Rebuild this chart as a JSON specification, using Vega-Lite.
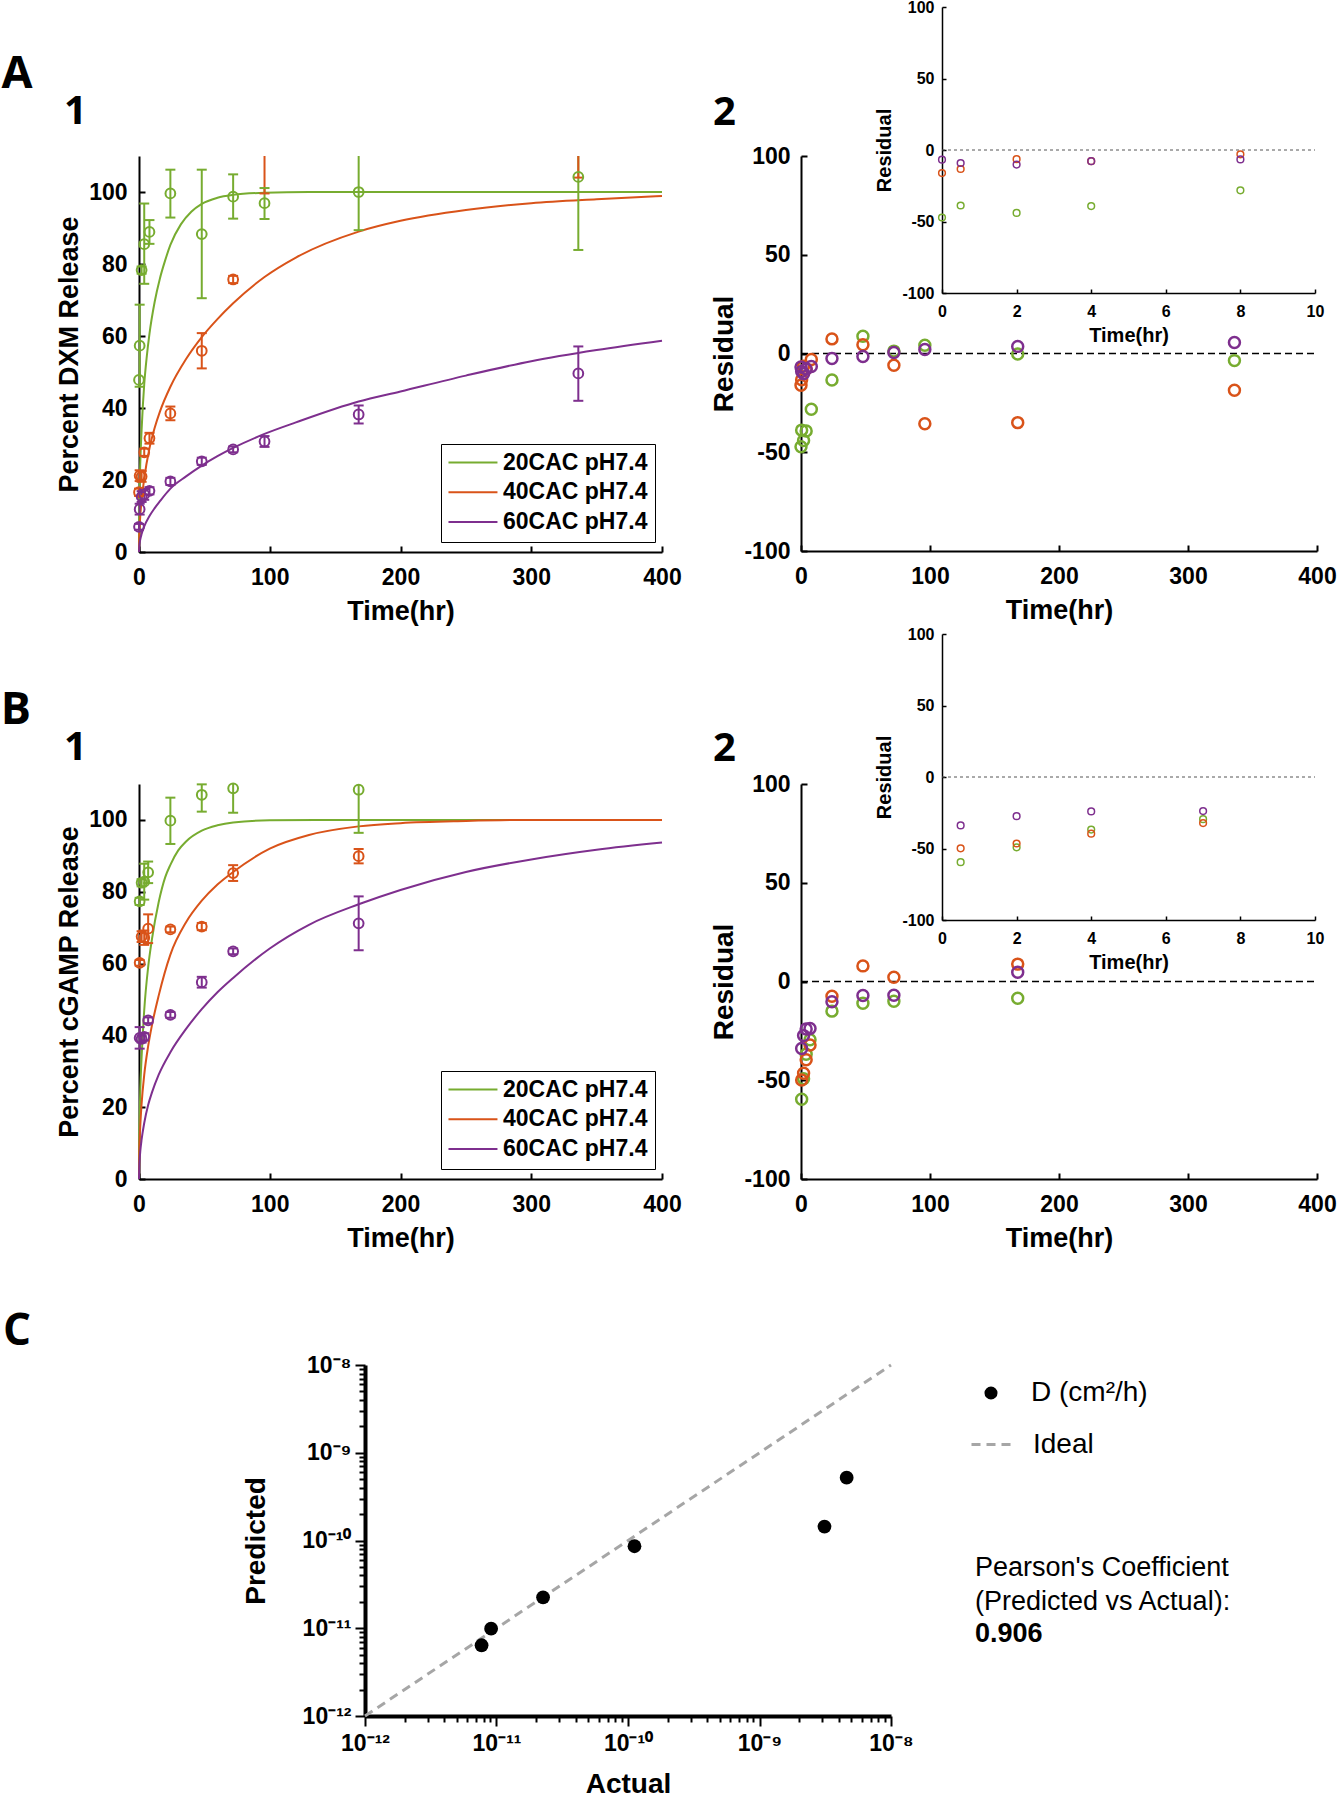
{
  "$schema": "https://vega.github.io/schema/vega-lite/v6.json",
  "width": 1337,
  "height": 1800,
  "autosize": {"type": "none"},
  "padding": 0,
  "background": "white",
  "config": {
    "view": {"stroke": null},
    "axis": {"grid": false, "domainColor": "black", "tickColor": "black", "labelColor": "black", "titleColor": "black", "labelFont": "Liberation Sans", "titleFont": "Liberation Sans", "labelFontWeight": "bold", "titleFontWeight": "bold", "labelFlush": false, "labelOverlap": false, "labelBound": false}
  },
  "datasets": {
    "a1": [
      {"s": "20CAC pH7.4", "t": 0, "v": 47.8, "lo": null, "hi": null},
      {"s": "20CAC pH7.4", "t": 0.5, "v": 57.3, "lo": 45.9, "hi": 68.7},
      {"s": "20CAC pH7.4", "t": 2, "v": 78.3, "lo": 77.3, "hi": 79.3},
      {"s": "20CAC pH7.4", "t": 4, "v": 85.5, "lo": 74.5, "hi": 96.8},
      {"s": "20CAC pH7.4", "t": 8, "v": 88.9, "lo": 85.6, "hi": 92.2},
      {"s": "20CAC pH7.4", "t": 24, "v": 99.6, "lo": 92.9, "hi": 106.2},
      {"s": "20CAC pH7.4", "t": 48, "v": 88.3, "lo": 70.5, "hi": 106.2},
      {"s": "20CAC pH7.4", "t": 72, "v": 98.7, "lo": 92.6, "hi": 104.9},
      {"s": "20CAC pH7.4", "t": 96, "v": 96.9, "lo": 92.5, "hi": 101.1},
      {"s": "20CAC pH7.4", "t": 168, "v": 100.0, "lo": 89.4, "hi": 110.6},
      {"s": "20CAC pH7.4", "t": 336, "v": 104.2, "lo": 83.9, "hi": 124.5},
      {"s": "40CAC pH7.4", "t": 0, "v": 16.6, "lo": 15.6, "hi": 17.6},
      {"s": "40CAC pH7.4", "t": 0.5, "v": 21.2, "lo": 19.7, "hi": 22.7},
      {"s": "40CAC pH7.4", "t": 2, "v": 21.0, "lo": 19.5, "hi": 22.5},
      {"s": "40CAC pH7.4", "t": 4, "v": 27.7, "lo": 26.7, "hi": 28.7},
      {"s": "40CAC pH7.4", "t": 8, "v": 31.6, "lo": 30.1, "hi": 33.1},
      {"s": "40CAC pH7.4", "t": 24, "v": 38.5, "lo": 36.6, "hi": 40.4},
      {"s": "40CAC pH7.4", "t": 48, "v": 55.9, "lo": 51.0, "hi": 60.8},
      {"s": "40CAC pH7.4", "t": 72, "v": 75.7, "lo": 74.7, "hi": 76.7},
      {"s": "40CAC pH7.4", "t": 96, "v": 112.0, "lo": 99.6, "hi": 124.4},
      {"s": "40CAC pH7.4", "t": 168, "v": 124.0, "lo": 116.0, "hi": 132.0},
      {"s": "40CAC pH7.4", "t": 336, "v": 116.3, "lo": 104.0, "hi": 128.6},
      {"s": "60CAC pH7.4", "t": 0, "v": 7.0, "lo": 6.2, "hi": 7.8},
      {"s": "60CAC pH7.4", "t": 0.5, "v": 11.9, "lo": 10.4, "hi": 13.4},
      {"s": "60CAC pH7.4", "t": 2, "v": 15.4, "lo": 13.9, "hi": 16.9},
      {"s": "60CAC pH7.4", "t": 4, "v": 16.0, "lo": 14.5, "hi": 17.5},
      {"s": "60CAC pH7.4", "t": 8, "v": 17.0, "lo": 16.0, "hi": 18.0},
      {"s": "60CAC pH7.4", "t": 24, "v": 19.6, "lo": 18.6, "hi": 20.6},
      {"s": "60CAC pH7.4", "t": 48, "v": 25.2, "lo": 24.2, "hi": 26.2},
      {"s": "60CAC pH7.4", "t": 72, "v": 28.5, "lo": 27.7, "hi": 29.3},
      {"s": "60CAC pH7.4", "t": 96, "v": 30.7, "lo": 29.2, "hi": 32.2},
      {"s": "60CAC pH7.4", "t": 168, "v": 38.2, "lo": 35.7, "hi": 40.7},
      {"s": "60CAC pH7.4", "t": 336, "v": 49.6, "lo": 42.0, "hi": 57.1}
    ],
    "a1fit": [
      {"s": "20CAC pH7.4", "t": 0, "v": 0}, {"s": "20CAC pH7.4", "t": 0.25, "v": 12.5}, {"s": "20CAC pH7.4", "t": 0.5, "v": 18}, {"s": "20CAC pH7.4", "t": 1, "v": 25}, {"s": "20CAC pH7.4", "t": 2, "v": 34}, {"s": "20CAC pH7.4", "t": 3, "v": 41}, {"s": "20CAC pH7.4", "t": 4, "v": 46.6}, {"s": "20CAC pH7.4", "t": 6, "v": 54.5}, {"s": "20CAC pH7.4", "t": 8, "v": 60.6}, {"s": "20CAC pH7.4", "t": 12, "v": 69.5}, {"s": "20CAC pH7.4", "t": 16, "v": 76}, {"s": "20CAC pH7.4", "t": 20, "v": 81}, {"s": "20CAC pH7.4", "t": 24, "v": 85.3}, {"s": "20CAC pH7.4", "t": 32, "v": 91}, {"s": "20CAC pH7.4", "t": 40, "v": 94.5}, {"s": "20CAC pH7.4", "t": 48, "v": 96.7}, {"s": "20CAC pH7.4", "t": 60, "v": 98.4}, {"s": "20CAC pH7.4", "t": 72, "v": 99.2}, {"s": "20CAC pH7.4", "t": 96, "v": 99.8}, {"s": "20CAC pH7.4", "t": 130, "v": 100}, {"s": "20CAC pH7.4", "t": 200, "v": 100}, {"s": "20CAC pH7.4", "t": 400, "v": 100},
      {"s": "40CAC pH7.4", "t": 0, "v": 0}, {"s": "40CAC pH7.4", "t": 0.25, "v": 5.1}, {"s": "40CAC pH7.4", "t": 0.5, "v": 7.2}, {"s": "40CAC pH7.4", "t": 1, "v": 10.2}, {"s": "40CAC pH7.4", "t": 2, "v": 14.4}, {"s": "40CAC pH7.4", "t": 4, "v": 20.4}, {"s": "40CAC pH7.4", "t": 8, "v": 28.8}, {"s": "40CAC pH7.4", "t": 12, "v": 34.5}, {"s": "40CAC pH7.4", "t": 16, "v": 39}, {"s": "40CAC pH7.4", "t": 24, "v": 45.9}, {"s": "40CAC pH7.4", "t": 36, "v": 53.6}, {"s": "40CAC pH7.4", "t": 48, "v": 59.7}, {"s": "40CAC pH7.4", "t": 60, "v": 64.7}, {"s": "40CAC pH7.4", "t": 72, "v": 69.1}, {"s": "40CAC pH7.4", "t": 96, "v": 76.4}, {"s": "40CAC pH7.4", "t": 120, "v": 81.8}, {"s": "40CAC pH7.4", "t": 168, "v": 89}, {"s": "40CAC pH7.4", "t": 200, "v": 92}, {"s": "40CAC pH7.4", "t": 250, "v": 95}, {"s": "40CAC pH7.4", "t": 300, "v": 96.9}, {"s": "40CAC pH7.4", "t": 350, "v": 98}, {"s": "40CAC pH7.4", "t": 400, "v": 98.9},
      {"s": "60CAC pH7.4", "t": 0, "v": 0}, {"s": "60CAC pH7.4", "t": 0.25, "v": 1.8}, {"s": "60CAC pH7.4", "t": 0.5, "v": 2.5}, {"s": "60CAC pH7.4", "t": 1, "v": 3.55}, {"s": "60CAC pH7.4", "t": 2, "v": 5}, {"s": "60CAC pH7.4", "t": 4, "v": 7.1}, {"s": "60CAC pH7.4", "t": 8, "v": 10}, {"s": "60CAC pH7.4", "t": 12, "v": 12.2}, {"s": "60CAC pH7.4", "t": 16, "v": 14.1}, {"s": "60CAC pH7.4", "t": 24, "v": 17.6}, {"s": "60CAC pH7.4", "t": 36, "v": 21}, {"s": "60CAC pH7.4", "t": 48, "v": 24}, {"s": "60CAC pH7.4", "t": 60, "v": 26.6}, {"s": "60CAC pH7.4", "t": 72, "v": 28.9}, {"s": "60CAC pH7.4", "t": 96, "v": 32.8}, {"s": "60CAC pH7.4", "t": 120, "v": 36}, {"s": "60CAC pH7.4", "t": 168, "v": 41.8}, {"s": "60CAC pH7.4", "t": 200, "v": 44.6}, {"s": "60CAC pH7.4", "t": 250, "v": 49}, {"s": "60CAC pH7.4", "t": 300, "v": 53}, {"s": "60CAC pH7.4", "t": 350, "v": 56.1}, {"s": "60CAC pH7.4", "t": 400, "v": 58.7}
    ],
    "a2": [
      {"s": "20CAC pH7.4", "t": 0, "r": -47.2}, {"s": "20CAC pH7.4", "t": 0.5, "r": -38.8}, {"s": "20CAC pH7.4", "t": 2, "r": -44}, {"s": "20CAC pH7.4", "t": 4, "r": -39.2}, {"s": "20CAC pH7.4", "t": 8, "r": -28.2}, {"s": "20CAC pH7.4", "t": 24, "r": -13.4}, {"s": "20CAC pH7.4", "t": 48, "r": 8.7}, {"s": "20CAC pH7.4", "t": 72, "r": 1.2}, {"s": "20CAC pH7.4", "t": 96, "r": 4.2}, {"s": "20CAC pH7.4", "t": 168, "r": -0.3}, {"s": "20CAC pH7.4", "t": 336, "r": -3.6},
      {"s": "40CAC pH7.4", "t": 0, "r": -16.1}, {"s": "40CAC pH7.4", "t": 0.5, "r": -13.3}, {"s": "40CAC pH7.4", "t": 2, "r": -6.4}, {"s": "40CAC pH7.4", "t": 4, "r": -7.8}, {"s": "40CAC pH7.4", "t": 8, "r": -3.0}, {"s": "40CAC pH7.4", "t": 24, "r": 7.4}, {"s": "40CAC pH7.4", "t": 48, "r": 4.4}, {"s": "40CAC pH7.4", "t": 72, "r": -5.9}, {"s": "40CAC pH7.4", "t": 96, "r": -35.6}, {"s": "40CAC pH7.4", "t": 168, "r": -35}, {"s": "40CAC pH7.4", "t": 336, "r": -18.6},
      {"s": "60CAC pH7.4", "t": 0, "r": -6.8}, {"s": "60CAC pH7.4", "t": 0.5, "r": -9.1}, {"s": "60CAC pH7.4", "t": 2, "r": -10.2}, {"s": "60CAC pH7.4", "t": 4, "r": -7.8}, {"s": "60CAC pH7.4", "t": 8, "r": -6.6}, {"s": "60CAC pH7.4", "t": 24, "r": -2.5}, {"s": "60CAC pH7.4", "t": 48, "r": -1.5}, {"s": "60CAC pH7.4", "t": 72, "r": 0.5}, {"s": "60CAC pH7.4", "t": 96, "r": 2}, {"s": "60CAC pH7.4", "t": 168, "r": 3.6}, {"s": "60CAC pH7.4", "t": 336, "r": 5.6}
    ],
    "b1": [
      {"s": "20CAC pH7.4", "t": 0.5, "v": 77.3, "lo": 76.3, "hi": 78.3},
      {"s": "20CAC pH7.4", "t": 2, "v": 82.5, "lo": 81.5, "hi": 83.5},
      {"s": "20CAC pH7.4", "t": 4, "v": 82.8, "lo": 77.8, "hi": 87.8},
      {"s": "20CAC pH7.4", "t": 7, "v": 85.4, "lo": 82.4, "hi": 88.4},
      {"s": "20CAC pH7.4", "t": 24, "v": 99.8, "lo": 93.3, "hi": 106.2},
      {"s": "20CAC pH7.4", "t": 48, "v": 107.0, "lo": 102.3, "hi": 109.9},
      {"s": "20CAC pH7.4", "t": 72, "v": 108.8, "lo": 102.0, "hi": 115.6},
      {"s": "20CAC pH7.4", "t": 168, "v": 108.4, "lo": 96.4, "hi": 120.4},
      {"s": "40CAC pH7.4", "t": 0.5, "v": 60.2, "lo": 59.4, "hi": 61.0},
      {"s": "40CAC pH7.4", "t": 2, "v": 67.5, "lo": 66.0, "hi": 69.0},
      {"s": "40CAC pH7.4", "t": 4, "v": 67.2, "lo": 65.2, "hi": 69.2},
      {"s": "40CAC pH7.4", "t": 7, "v": 69.7, "lo": 65.7, "hi": 73.7},
      {"s": "40CAC pH7.4", "t": 24, "v": 69.5, "lo": 68.7, "hi": 70.3},
      {"s": "40CAC pH7.4", "t": 48, "v": 70.3, "lo": 69.3, "hi": 71.3},
      {"s": "40CAC pH7.4", "t": 72, "v": 85.2, "lo": 83.0, "hi": 87.4},
      {"s": "40CAC pH7.4", "t": 168, "v": 89.9, "lo": 87.9, "hi": 91.9},
      {"s": "60CAC pH7.4", "t": 0.5, "v": 39.3, "lo": 36.3, "hi": 42.3},
      {"s": "60CAC pH7.4", "t": 2, "v": 39.0, "lo": 38.0, "hi": 40.0},
      {"s": "60CAC pH7.4", "t": 4, "v": 39.6, "lo": 38.6, "hi": 40.6},
      {"s": "60CAC pH7.4", "t": 7, "v": 44.2, "lo": 43.4, "hi": 45.0},
      {"s": "60CAC pH7.4", "t": 24, "v": 45.7, "lo": 44.9, "hi": 46.5},
      {"s": "60CAC pH7.4", "t": 48, "v": 54.8, "lo": 53.3, "hi": 56.3},
      {"s": "60CAC pH7.4", "t": 72, "v": 63.4, "lo": 62.6, "hi": 64.2},
      {"s": "60CAC pH7.4", "t": 168, "v": 71.2, "lo": 63.7, "hi": 78.7}
    ],
    "b1fit": [
      {"s": "20CAC pH7.4", "t": 0, "v": 0}, {"s": "20CAC pH7.4", "t": 0.25, "v": 12.5}, {"s": "20CAC pH7.4", "t": 0.5, "v": 17.6}, {"s": "20CAC pH7.4", "t": 1, "v": 25}, {"s": "20CAC pH7.4", "t": 2, "v": 34}, {"s": "20CAC pH7.4", "t": 4, "v": 47}, {"s": "20CAC pH7.4", "t": 7, "v": 59}, {"s": "20CAC pH7.4", "t": 10, "v": 67}, {"s": "20CAC pH7.4", "t": 15, "v": 77}, {"s": "20CAC pH7.4", "t": 20, "v": 84}, {"s": "20CAC pH7.4", "t": 24, "v": 87.5}, {"s": "20CAC pH7.4", "t": 30, "v": 91.5}, {"s": "20CAC pH7.4", "t": 36, "v": 94}, {"s": "20CAC pH7.4", "t": 48, "v": 97}, {"s": "20CAC pH7.4", "t": 60, "v": 98.5}, {"s": "20CAC pH7.4", "t": 72, "v": 99.3}, {"s": "20CAC pH7.4", "t": 100, "v": 99.9}, {"s": "20CAC pH7.4", "t": 150, "v": 100}, {"s": "20CAC pH7.4", "t": 400, "v": 100},
      {"s": "40CAC pH7.4", "t": 0, "v": 0}, {"s": "40CAC pH7.4", "t": 0.25, "v": 7.5}, {"s": "40CAC pH7.4", "t": 0.5, "v": 10.7}, {"s": "40CAC pH7.4", "t": 1, "v": 15}, {"s": "40CAC pH7.4", "t": 2, "v": 21}, {"s": "40CAC pH7.4", "t": 4, "v": 29}, {"s": "40CAC pH7.4", "t": 7, "v": 37}, {"s": "40CAC pH7.4", "t": 10, "v": 43}, {"s": "40CAC pH7.4", "t": 15, "v": 51}, {"s": "40CAC pH7.4", "t": 24, "v": 62.5}, {"s": "40CAC pH7.4", "t": 36, "v": 71.5}, {"s": "40CAC pH7.4", "t": 48, "v": 77.5}, {"s": "40CAC pH7.4", "t": 60, "v": 82}, {"s": "40CAC pH7.4", "t": 72, "v": 85.5}, {"s": "40CAC pH7.4", "t": 100, "v": 92}, {"s": "40CAC pH7.4", "t": 130, "v": 95.8}, {"s": "40CAC pH7.4", "t": 168, "v": 98.2}, {"s": "40CAC pH7.4", "t": 200, "v": 99.1}, {"s": "40CAC pH7.4", "t": 250, "v": 99.7}, {"s": "40CAC pH7.4", "t": 300, "v": 100}, {"s": "40CAC pH7.4", "t": 400, "v": 100},
      {"s": "60CAC pH7.4", "t": 0, "v": 0}, {"s": "60CAC pH7.4", "t": 0.25, "v": 3.9}, {"s": "60CAC pH7.4", "t": 0.5, "v": 5.5}, {"s": "60CAC pH7.4", "t": 1, "v": 7.8}, {"s": "60CAC pH7.4", "t": 2, "v": 11}, {"s": "60CAC pH7.4", "t": 4, "v": 15.6}, {"s": "60CAC pH7.4", "t": 7, "v": 20.6}, {"s": "60CAC pH7.4", "t": 10, "v": 24.2}, {"s": "60CAC pH7.4", "t": 15, "v": 29}, {"s": "60CAC pH7.4", "t": 24, "v": 35.3}, {"s": "60CAC pH7.4", "t": 36, "v": 41.8}, {"s": "60CAC pH7.4", "t": 48, "v": 47.3}, {"s": "60CAC pH7.4", "t": 60, "v": 52}, {"s": "60CAC pH7.4", "t": 72, "v": 56}, {"s": "60CAC pH7.4", "t": 100, "v": 64.2}, {"s": "60CAC pH7.4", "t": 130, "v": 70.8}, {"s": "60CAC pH7.4", "t": 168, "v": 76.5}, {"s": "60CAC pH7.4", "t": 200, "v": 80.5}, {"s": "60CAC pH7.4", "t": 250, "v": 85.5}, {"s": "60CAC pH7.4", "t": 300, "v": 89}, {"s": "60CAC pH7.4", "t": 350, "v": 91.7}, {"s": "60CAC pH7.4", "t": 400, "v": 93.7}
    ],
    "b2": [
      {"s": "20CAC pH7.4", "t": 0.5, "r": -59.6}, {"s": "20CAC pH7.4", "t": 2, "r": -49.2}, {"s": "20CAC pH7.4", "t": 4, "r": -36.8}, {"s": "20CAC pH7.4", "t": 7, "r": -29.5}, {"s": "20CAC pH7.4", "t": 24, "r": -15}, {"s": "20CAC pH7.4", "t": 48, "r": -11}, {"s": "20CAC pH7.4", "t": 72, "r": -10}, {"s": "20CAC pH7.4", "t": 168, "r": -8.5},
      {"s": "40CAC pH7.4", "t": 0.5, "r": -49.9}, {"s": "40CAC pH7.4", "t": 2, "r": -46.5}, {"s": "40CAC pH7.4", "t": 4, "r": -39.6}, {"s": "40CAC pH7.4", "t": 7, "r": -32.2}, {"s": "40CAC pH7.4", "t": 24, "r": -7.5}, {"s": "40CAC pH7.4", "t": 48, "r": 7.9}, {"s": "40CAC pH7.4", "t": 72, "r": 2.2}, {"s": "40CAC pH7.4", "t": 168, "r": 8.8},
      {"s": "60CAC pH7.4", "t": 0.5, "r": -33.9}, {"s": "60CAC pH7.4", "t": 2, "r": -27.4}, {"s": "60CAC pH7.4", "t": 4, "r": -24.1}, {"s": "60CAC pH7.4", "t": 7, "r": -23.8}, {"s": "60CAC pH7.4", "t": 24, "r": -10.3}, {"s": "60CAC pH7.4", "t": 48, "r": -7.1}, {"s": "60CAC pH7.4", "t": 72, "r": -7}, {"s": "60CAC pH7.4", "t": 168, "r": 4.7}
    ],
    "c": [
      {"pt": "D (cm²/h)", "actual": 7.7e-12, "predicted": 6.4e-12},
      {"pt": "D (cm²/h)", "actual": 9.1e-12, "predicted": 9.9e-12},
      {"pt": "D (cm²/h)", "actual": 2.26e-11, "predicted": 2.25e-11},
      {"pt": "D (cm²/h)", "actual": 1.12e-10, "predicted": 8.6e-11},
      {"pt": "D (cm²/h)", "actual": 3.12e-9, "predicted": 1.44e-10},
      {"pt": "D (cm²/h)", "actual": 4.6e-9, "predicted": 5.2e-10}
    ],
    "cideal": [
      {"ln": "Ideal", "actual": 1e-12, "predicted": 1e-12},
      {"ln": "Ideal", "actual": 1e-8, "predicted": 1e-8}
    ]
  },
  "layer": [
    {
      "layer": [
        {
          "data": {"name": "a1fit"},
          "mark": {"type": "line", "interpolate": "monotone", "strokeWidth": 2},
          "encoding": {
            "x": {"field": "t", "type": "quantitative", "scale": {"domain": [0, 400], "range": [139, 662], "nice": false, "zero": false},
              "axis": {"orient": "bottom", "offset": -1248, "values": [0, 100, 200, 300, 400], "title": "Time(hr)", "domainWidth": 2, "tickWidth": 2, "tickSize": -6, "labelFontSize": 23, "labelPadding": 20, "titleFontSize": 27, "titlePadding": 9}},
            "y": {"field": "v", "type": "quantitative", "scale": {"domain": [0, 110], "range": [552, 156], "nice": false, "zero": false, "clamp": true},
              "axis": {"orient": "left", "offset": -139, "values": [0, 20, 40, 60, 80, 100], "title": "Percent DXM Release", "domainWidth": 2, "tickWidth": 2, "tickSize": -6, "labelFontSize": 23, "labelPadding": 18, "titleFontSize": 27, "titlePadding": 5}},
            "color": {"field": "s", "type": "nominal", "scale": {"domain": ["20CAC pH7.4", "40CAC pH7.4", "60CAC pH7.4"], "range": ["#77AC30", "#D95319", "#7E2F8E"]},
              "legend": {"orient": "none", "legendX": 441, "legendY": 444, "title": null, "symbolType": "M-1.8,0H6.2", "symbolSize": 150, "symbolStrokeWidth": 2, "labelFont": "Liberation Sans", "labelFontWeight": "bold", "labelFontSize": 23, "labelColor": "black", "labelLimit": 400, "strokeColor": "black", "fillColor": "white", "padding": 7, "labelOffset": 32, "rowPadding": 5.8}}
          }
        },
        {
          "data": {"name": "a1"},
          "transform": [{"filter": "isValid(datum.lo)"}],
          "mark": {"type": "rule", "strokeWidth": 2},
          "encoding": {
            "x": {"field": "t", "type": "quantitative", "scale": {"domain": [0, 400], "range": [139, 662], "nice": false, "zero": false}},
            "y": {"field": "lo", "type": "quantitative", "scale": {"domain": [0, 110], "range": [552, 156], "nice": false, "zero": false, "clamp": true}},
            "y2": {"field": "hi"},
            "color": {"field": "s", "type": "nominal", "scale": {"domain": ["20CAC pH7.4", "40CAC pH7.4", "60CAC pH7.4"], "range": ["#77AC30", "#D95319", "#7E2F8E"]}}
          }
        },
        {
          "data": {"name": "a1"},
          "transform": [{"filter": "isValid(datum.lo) && datum.lo <= 110"}],
          "mark": {"type": "tick", "orient": "horizontal", "size": 10, "thickness": 2, "opacity": 1},
          "encoding": {
            "x": {"field": "t", "type": "quantitative", "scale": {"domain": [0, 400], "range": [139, 662], "nice": false, "zero": false}},
            "y": {"field": "lo", "type": "quantitative", "scale": {"domain": [0, 110], "range": [552, 156], "nice": false, "zero": false, "clamp": true}},
            "color": {"field": "s", "type": "nominal", "scale": {"domain": ["20CAC pH7.4", "40CAC pH7.4", "60CAC pH7.4"], "range": ["#77AC30", "#D95319", "#7E2F8E"]}}
          }
        },
        {
          "data": {"name": "a1"},
          "transform": [{"filter": "isValid(datum.hi) && datum.hi <= 110"}],
          "mark": {"type": "tick", "orient": "horizontal", "size": 10, "thickness": 2, "opacity": 1},
          "encoding": {
            "x": {"field": "t", "type": "quantitative", "scale": {"domain": [0, 400], "range": [139, 662], "nice": false, "zero": false}},
            "y": {"field": "hi", "type": "quantitative", "scale": {"domain": [0, 110], "range": [552, 156], "nice": false, "zero": false, "clamp": true}},
            "color": {"field": "s", "type": "nominal", "scale": {"domain": ["20CAC pH7.4", "40CAC pH7.4", "60CAC pH7.4"], "range": ["#77AC30", "#D95319", "#7E2F8E"]}}
          }
        },
        {
          "data": {"name": "a1"},
          "transform": [{"filter": "datum.v <= 110"}],
          "mark": {"type": "point", "shape": "circle", "filled": false, "size": 95, "strokeWidth": 2, "opacity": 1},
          "encoding": {
            "x": {"field": "t", "type": "quantitative", "scale": {"domain": [0, 400], "range": [139, 662], "nice": false, "zero": false}},
            "y": {"field": "v", "type": "quantitative", "scale": {"domain": [0, 110], "range": [552, 156], "nice": false, "zero": false, "clamp": true}},
            "color": {"field": "s", "type": "nominal", "scale": {"domain": ["20CAC pH7.4", "40CAC pH7.4", "60CAC pH7.4"], "range": ["#77AC30", "#D95319", "#7E2F8E"]}}
          }
        }
      ]
    },
    {
      "data": {"values": [{"label": "A", "t": -93.3, "v": 132.8, "level": "panel"}, {"label": "1", "t": -48.6, "v": 122.2, "level": "sub"}]},
      "encoding": {
        "x": {"field": "t", "type": "quantitative", "scale": {"domain": [0, 400], "range": [139, 662], "nice": false, "zero": false}, "axis": null},
        "y": {"field": "v", "type": "quantitative", "scale": {"domain": [0, 110], "range": [552, 156], "nice": false, "zero": false}, "axis": null},
        "text": {"field": "label", "type": "nominal"}
      },
      "layer": [
        {"transform": [{"filter": "datum.level == 'panel'"}], "mark": {"type": "text", "font": "Open Sans", "fontWeight": "bold", "fontSize": 45, "align": "center", "baseline": "middle", "color": "black"}},
        {"transform": [{"filter": "datum.level == 'sub'"}], "mark": {"type": "text", "font": "Open Sans", "fontWeight": "bold", "fontSize": 40, "align": "center", "baseline": "middle", "color": "black"}}
      ]
    },
    {
      "layer": [
        {
          "data": {"values": [{"from": 0, "to": 400, "r": 0}]},
          "mark": {"type": "rule", "strokeDash": [7, 4], "strokeWidth": 1.5, "color": "black"},
          "encoding": {
            "x": {"field": "from", "type": "quantitative", "scale": {"domain": [0, 400], "range": [801, 1317], "nice": false, "zero": false},
              "axis": {"orient": "bottom", "offset": -1249, "values": [0, 100, 200, 300, 400], "title": "Time(hr)", "domainWidth": 2, "tickWidth": 2, "tickSize": -6, "labelFontSize": 23, "labelPadding": 20, "titleFontSize": 27, "titlePadding": 9}},
            "x2": {"field": "to"},
            "y": {"field": "r", "type": "quantitative", "scale": {"domain": [-100, 100], "range": [551, 156], "nice": false, "zero": false},
              "axis": {"orient": "left", "offset": -801, "values": [-100, -50, 0, 50, 100], "labelExpr": "datum.value + ''", "title": "Residual", "domainWidth": 2, "tickWidth": 2, "tickSize": -6, "labelFontSize": 23, "labelPadding": 17, "titleFontSize": 28, "titlePadding": 5}}
          }
        },
        {
          "data": {"name": "a2"},
          "mark": {"type": "point", "shape": "circle", "filled": false, "size": 120, "strokeWidth": 2.5, "opacity": 1},
          "encoding": {
            "x": {"field": "t", "type": "quantitative", "scale": {"domain": [0, 400], "range": [801, 1317], "nice": false, "zero": false}},
            "y": {"field": "r", "type": "quantitative", "scale": {"domain": [-100, 100], "range": [551, 156], "nice": false, "zero": false}},
            "color": {"field": "s", "type": "nominal", "scale": {"domain": ["20CAC pH7.4", "40CAC pH7.4", "60CAC pH7.4"], "range": ["#77AC30", "#D95319", "#7E2F8E"]}, "legend": null}
          }
        },
        {
          "data": {"values": [{"label": "2", "t": -59.3, "r": 121.8}]},
          "mark": {"type": "text", "font": "Open Sans", "fontWeight": "bold", "fontSize": 40, "align": "center", "baseline": "middle", "color": "black"},
          "encoding": {
            "x": {"field": "t", "type": "quantitative", "scale": {"domain": [0, 400], "range": [801, 1317], "nice": false, "zero": false}},
            "y": {"field": "r", "type": "quantitative", "scale": {"domain": [-100, 100], "range": [551, 156], "nice": false, "zero": false}},
            "text": {"field": "label", "type": "nominal"}
          }
        }
      ]
    },
    {
      "layer": [
        {
          "data": {"values": [{"from": 0, "to": 10, "r": 0}]},
          "mark": {"type": "rule", "strokeDash": [3, 3], "strokeWidth": 1, "color": "#555555"},
          "encoding": {
            "x": {"field": "from", "type": "quantitative", "scale": {"domain": [0, 10], "range": [942, 1315], "nice": false, "zero": false},
              "axis": {"orient": "bottom", "offset": -1507, "values": [0, 2, 4, 6, 8, 10], "labelExpr": "datum.value + ''", "title": "Time(hr)", "domainWidth": 1.5, "tickWidth": 1.5, "tickSize": -4, "labelFontSize": 16, "labelPadding": 14, "titleFontSize": 20, "titlePadding": 6}},
            "x2": {"field": "to"},
            "y": {"field": "r", "type": "quantitative", "scale": {"domain": [-100, 100], "range": [293, 7], "nice": false, "zero": false},
              "axis": {"orient": "left", "offset": -942, "values": [-100, -50, 0, 50, 100], "labelExpr": "datum.value + ''", "title": "Residual", "domainWidth": 1.5, "tickWidth": 1.5, "tickSize": -4, "labelFontSize": 16, "labelPadding": 12, "titleFontSize": 20, "titlePadding": 7}}
          }
        },
        {
          "data": {"name": "a2"},
          "transform": [{"filter": "datum.t <= 10"}],
          "mark": {"type": "point", "shape": "circle", "filled": false, "size": 45, "strokeWidth": 1.5, "opacity": 1},
          "encoding": {
            "x": {"field": "t", "type": "quantitative", "scale": {"domain": [0, 10], "range": [942, 1315], "nice": false, "zero": false}},
            "y": {"field": "r", "type": "quantitative", "scale": {"domain": [-100, 100], "range": [293, 7], "nice": false, "zero": false}},
            "color": {"field": "s", "type": "nominal", "scale": {"domain": ["20CAC pH7.4", "40CAC pH7.4", "60CAC pH7.4"], "range": ["#77AC30", "#D95319", "#7E2F8E"]}, "legend": null}
          }
        }
      ]
    },
    {
      "layer": [
        {
          "data": {"name": "b1fit"},
          "mark": {"type": "line", "interpolate": "monotone", "strokeWidth": 2},
          "encoding": {
            "x": {"field": "t", "type": "quantitative", "scale": {"domain": [0, 400], "range": [139, 662], "nice": false, "zero": false},
              "axis": {"orient": "bottom", "offset": -621, "values": [0, 100, 200, 300, 400], "title": "Time(hr)", "domainWidth": 2, "tickWidth": 2, "tickSize": -6, "labelFontSize": 23, "labelPadding": 20, "titleFontSize": 27, "titlePadding": 9}},
            "y": {"field": "v", "type": "quantitative", "scale": {"domain": [0, 110], "range": [1179, 784], "nice": false, "zero": false, "clamp": true},
              "axis": {"orient": "left", "offset": -139, "values": [0, 20, 40, 60, 80, 100], "title": "Percent cGAMP Release", "domainWidth": 2, "tickWidth": 2, "tickSize": -6, "labelFontSize": 23, "labelPadding": 18, "titleFontSize": 27, "titlePadding": 5}},
            "color": {"field": "s", "type": "nominal", "scale": {"domain": ["20CAC pH7.4", "40CAC pH7.4", "60CAC pH7.4"], "range": ["#77AC30", "#D95319", "#7E2F8E"]},
              "legend": {"orient": "none", "legendX": 441, "legendY": 1071, "title": null, "symbolType": "M-1.8,0H6.2", "symbolSize": 150, "symbolStrokeWidth": 2, "labelFont": "Liberation Sans", "labelFontWeight": "bold", "labelFontSize": 23, "labelColor": "black", "labelLimit": 400, "strokeColor": "black", "fillColor": "white", "padding": 7, "labelOffset": 32, "rowPadding": 5.8}}
          }
        },
        {
          "data": {"name": "b1"},
          "mark": {"type": "rule", "strokeWidth": 2},
          "encoding": {
            "x": {"field": "t", "type": "quantitative", "scale": {"domain": [0, 400], "range": [139, 662], "nice": false, "zero": false}},
            "y": {"field": "lo", "type": "quantitative", "scale": {"domain": [0, 110], "range": [1179, 784], "nice": false, "zero": false, "clamp": true}},
            "y2": {"field": "hi"},
            "color": {"field": "s", "type": "nominal", "scale": {"domain": ["20CAC pH7.4", "40CAC pH7.4", "60CAC pH7.4"], "range": ["#77AC30", "#D95319", "#7E2F8E"]}}
          }
        },
        {
          "data": {"name": "b1"},
          "transform": [{"filter": "datum.lo <= 110"}],
          "mark": {"type": "tick", "orient": "horizontal", "size": 10, "thickness": 2, "opacity": 1},
          "encoding": {
            "x": {"field": "t", "type": "quantitative", "scale": {"domain": [0, 400], "range": [139, 662], "nice": false, "zero": false}},
            "y": {"field": "lo", "type": "quantitative", "scale": {"domain": [0, 110], "range": [1179, 784], "nice": false, "zero": false, "clamp": true}},
            "color": {"field": "s", "type": "nominal", "scale": {"domain": ["20CAC pH7.4", "40CAC pH7.4", "60CAC pH7.4"], "range": ["#77AC30", "#D95319", "#7E2F8E"]}}
          }
        },
        {
          "data": {"name": "b1"},
          "transform": [{"filter": "datum.hi <= 110"}],
          "mark": {"type": "tick", "orient": "horizontal", "size": 10, "thickness": 2, "opacity": 1},
          "encoding": {
            "x": {"field": "t", "type": "quantitative", "scale": {"domain": [0, 400], "range": [139, 662], "nice": false, "zero": false}},
            "y": {"field": "hi", "type": "quantitative", "scale": {"domain": [0, 110], "range": [1179, 784], "nice": false, "zero": false, "clamp": true}},
            "color": {"field": "s", "type": "nominal", "scale": {"domain": ["20CAC pH7.4", "40CAC pH7.4", "60CAC pH7.4"], "range": ["#77AC30", "#D95319", "#7E2F8E"]}}
          }
        },
        {
          "data": {"name": "b1"},
          "transform": [{"filter": "datum.v <= 110"}],
          "mark": {"type": "point", "shape": "circle", "filled": false, "size": 95, "strokeWidth": 2, "opacity": 1},
          "encoding": {
            "x": {"field": "t", "type": "quantitative", "scale": {"domain": [0, 400], "range": [139, 662], "nice": false, "zero": false}},
            "y": {"field": "v", "type": "quantitative", "scale": {"domain": [0, 110], "range": [1179, 784], "nice": false, "zero": false, "clamp": true}},
            "color": {"field": "s", "type": "nominal", "scale": {"domain": ["20CAC pH7.4", "40CAC pH7.4", "60CAC pH7.4"], "range": ["#77AC30", "#D95319", "#7E2F8E"]}}
          }
        }
      ]
    },
    {
      "data": {"values": [{"label": "B", "t": -94.1, "v": 130.6, "level": "panel"}, {"label": "1", "t": -48.6, "v": 120.0, "level": "sub"}]},
      "encoding": {
        "x": {"field": "t", "type": "quantitative", "scale": {"domain": [0, 400], "range": [139, 662], "nice": false, "zero": false}, "axis": null},
        "y": {"field": "v", "type": "quantitative", "scale": {"domain": [0, 110], "range": [1179, 784], "nice": false, "zero": false}, "axis": null},
        "text": {"field": "label", "type": "nominal"}
      },
      "layer": [
        {"transform": [{"filter": "datum.level == 'panel'"}], "mark": {"type": "text", "font": "Open Sans", "fontWeight": "bold", "fontSize": 45, "align": "center", "baseline": "middle", "color": "black"}},
        {"transform": [{"filter": "datum.level == 'sub'"}], "mark": {"type": "text", "font": "Open Sans", "fontWeight": "bold", "fontSize": 40, "align": "center", "baseline": "middle", "color": "black"}}
      ]
    },
    {
      "layer": [
        {
          "data": {"values": [{"from": 0, "to": 400, "r": 0}]},
          "mark": {"type": "rule", "strokeDash": [7, 4], "strokeWidth": 1.5, "color": "black"},
          "encoding": {
            "x": {"field": "from", "type": "quantitative", "scale": {"domain": [0, 400], "range": [801, 1317], "nice": false, "zero": false},
              "axis": {"orient": "bottom", "offset": -621, "values": [0, 100, 200, 300, 400], "title": "Time(hr)", "domainWidth": 2, "tickWidth": 2, "tickSize": -6, "labelFontSize": 23, "labelPadding": 20, "titleFontSize": 27, "titlePadding": 9}},
            "x2": {"field": "to"},
            "y": {"field": "r", "type": "quantitative", "scale": {"domain": [-100, 100], "range": [1179, 784], "nice": false, "zero": false},
              "axis": {"orient": "left", "offset": -801, "values": [-100, -50, 0, 50, 100], "labelExpr": "datum.value + ''", "title": "Residual", "domainWidth": 2, "tickWidth": 2, "tickSize": -6, "labelFontSize": 23, "labelPadding": 17, "titleFontSize": 28, "titlePadding": 5}}
          }
        },
        {
          "data": {"name": "b2"},
          "mark": {"type": "point", "shape": "circle", "filled": false, "size": 120, "strokeWidth": 2.5, "opacity": 1},
          "encoding": {
            "x": {"field": "t", "type": "quantitative", "scale": {"domain": [0, 400], "range": [801, 1317], "nice": false, "zero": false}},
            "y": {"field": "r", "type": "quantitative", "scale": {"domain": [-100, 100], "range": [1179, 784], "nice": false, "zero": false}},
            "color": {"field": "s", "type": "nominal", "scale": {"domain": ["20CAC pH7.4", "40CAC pH7.4", "60CAC pH7.4"], "range": ["#77AC30", "#D95319", "#7E2F8E"]}, "legend": null}
          }
        },
        {
          "data": {"values": [{"label": "2", "t": -59.3, "r": 117.7}]},
          "mark": {"type": "text", "font": "Open Sans", "fontWeight": "bold", "fontSize": 40, "align": "center", "baseline": "middle", "color": "black"},
          "encoding": {
            "x": {"field": "t", "type": "quantitative", "scale": {"domain": [0, 400], "range": [801, 1317], "nice": false, "zero": false}},
            "y": {"field": "r", "type": "quantitative", "scale": {"domain": [-100, 100], "range": [1179, 784], "nice": false, "zero": false}},
            "text": {"field": "label", "type": "nominal"}
          }
        }
      ]
    },
    {
      "layer": [
        {
          "data": {"values": [{"from": 0, "to": 10, "r": 0}]},
          "mark": {"type": "rule", "strokeDash": [3, 3], "strokeWidth": 1, "color": "#555555"},
          "encoding": {
            "x": {"field": "from", "type": "quantitative", "scale": {"domain": [0, 10], "range": [942, 1315], "nice": false, "zero": false},
              "axis": {"orient": "bottom", "offset": -880, "values": [0, 2, 4, 6, 8, 10], "labelExpr": "datum.value + ''", "title": "Time(hr)", "domainWidth": 1.5, "tickWidth": 1.5, "tickSize": -4, "labelFontSize": 16, "labelPadding": 14, "titleFontSize": 20, "titlePadding": 6}},
            "x2": {"field": "to"},
            "y": {"field": "r", "type": "quantitative", "scale": {"domain": [-100, 100], "range": [920, 634], "nice": false, "zero": false},
              "axis": {"orient": "left", "offset": -942, "values": [-100, -50, 0, 50, 100], "labelExpr": "datum.value + ''", "title": "Residual", "domainWidth": 1.5, "tickWidth": 1.5, "tickSize": -4, "labelFontSize": 16, "labelPadding": 12, "titleFontSize": 20, "titlePadding": 7}}
          }
        },
        {
          "data": {"name": "b2"},
          "transform": [{"filter": "datum.t <= 10"}],
          "mark": {"type": "point", "shape": "circle", "filled": false, "size": 45, "strokeWidth": 1.5, "opacity": 1},
          "encoding": {
            "x": {"field": "t", "type": "quantitative", "scale": {"domain": [0, 10], "range": [942, 1315], "nice": false, "zero": false}},
            "y": {"field": "r", "type": "quantitative", "scale": {"domain": [-100, 100], "range": [920, 634], "nice": false, "zero": false}},
            "color": {"field": "s", "type": "nominal", "scale": {"domain": ["20CAC pH7.4", "40CAC pH7.4", "60CAC pH7.4"], "range": ["#77AC30", "#D95319", "#7E2F8E"]}, "legend": null}
          }
        }
      ]
    },
    {
      "layer": [
        {
          "data": {"name": "cideal"},
          "mark": {"type": "line", "color": "#a6a6a6", "strokeWidth": 3},
          "encoding": {
            "x": {"field": "actual", "type": "quantitative", "scale": {"type": "log", "domain": [1e-12, 1e-8], "range": [365, 891], "nice": false},
              "axis": {"orient": "bottom", "offset": -84, "values": [1e-12, 2e-12, 3e-12, 4e-12, 5e-12, 6e-12, 7e-12, 8e-12, 9e-12, 1e-11, 2e-11, 3e-11, 4e-11, 5e-11, 6e-11, 7e-11, 8e-11, 9e-11, 1e-10, 2e-10, 3e-10, 4e-10, 5e-10, 6e-10, 7e-10, 8e-10, 9e-10, 1e-9, 2e-9, 3e-9, 4e-9, 5e-9, 6e-9, 7e-9, 8e-9, 9e-9, 1e-8],
                "labelExpr": "datum.value == 1e-12 ? '10⁻¹²' : datum.value == 1e-11 ? '10⁻¹¹' : datum.value == 1e-10 ? '10⁻¹⁰' : datum.value == 1e-9 ? '10⁻⁹' : datum.value == 1e-8 ? '10⁻⁸' : ''",
                "title": "Actual", "domainWidth": 4, "tickWidth": 2,
                "tickSize": {"condition": {"test": "datum.value == 1e-12 || datum.value == 1e-11 || datum.value == 1e-10 || datum.value == 1e-9 || datum.value == 1e-8", "value": 10}, "value": 6},
                "labelFontSize": 23, "labelPadding": 6, "titleFontSize": 28, "titlePadding": 15}},
            "y": {"field": "predicted", "type": "quantitative", "scale": {"type": "log", "domain": [1e-12, 1e-8], "range": [1716, 1365], "nice": false},
              "axis": {"orient": "left", "offset": -365, "values": [1e-12, 2e-12, 3e-12, 4e-12, 5e-12, 6e-12, 7e-12, 8e-12, 9e-12, 1e-11, 2e-11, 3e-11, 4e-11, 5e-11, 6e-11, 7e-11, 8e-11, 9e-11, 1e-10, 2e-10, 3e-10, 4e-10, 5e-10, 6e-10, 7e-10, 8e-10, 9e-10, 1e-9, 2e-9, 3e-9, 4e-9, 5e-9, 6e-9, 7e-9, 8e-9, 9e-9, 1e-8],
                "labelExpr": "datum.value == 1e-12 ? '10⁻¹²' : datum.value == 1e-11 ? '10⁻¹¹' : datum.value == 1e-10 ? '10⁻¹⁰' : datum.value == 1e-9 ? '10⁻⁹' : datum.value == 1e-8 ? '10⁻⁸' : ''",
                "title": "Predicted", "domainWidth": 4, "tickWidth": 2,
                "tickSize": {"condition": {"test": "datum.value == 1e-12 || datum.value == 1e-11 || datum.value == 1e-10 || datum.value == 1e-9 || datum.value == 1e-8", "value": 10}, "value": 6},
                "labelFontSize": 23, "labelPadding": 4, "titleFontSize": 28, "titlePadding": 31}},
            "strokeDash": {"field": "ln", "type": "nominal", "scale": {"domain": ["Ideal"], "range": [[9, 6]]},
              "legend": {"orient": "none", "legendX": 970, "legendY": 1423, "title": null, "symbolType": "stroke", "symbolSize": 1600, "symbolStrokeColor": "#a6a6a6", "symbolStrokeWidth": 3, "labelFont": "Liberation Sans", "labelFontSize": 28, "labelColor": "black", "labelOffset": 20, "padding": 0}}
          }
        },
        {
          "data": {"name": "c"},
          "mark": {"type": "point", "filled": true, "color": "black", "size": 190, "opacity": 1},
          "encoding": {
            "x": {"field": "actual", "type": "quantitative", "scale": {"type": "log", "domain": [1e-12, 1e-8], "range": [365, 891], "nice": false}},
            "y": {"field": "predicted", "type": "quantitative", "scale": {"type": "log", "domain": [1e-12, 1e-8], "range": [1716, 1365], "nice": false}},
            "shape": {"field": "pt", "type": "nominal", "scale": {"domain": ["D (cm²/h)"], "range": ["circle"]},
              "legend": {"orient": "none", "legendX": 977, "legendY": 1379, "title": null, "symbolSize": 170, "symbolFillColor": "black", "symbolStrokeWidth": 0, "symbolOpacity": 1, "labelFont": "Liberation Sans", "labelFontSize": 28, "labelColor": "black", "labelOffset": 26, "padding": 0}}
          }
        },
        {
          "data": {"values": [{"line": "Pearson's Coefficient", "actual": 4.355e-8, "predicted": 3.94e-11}, {"line": "(Predicted vs Actual):", "actual": 4.355e-8, "predicted": 1.614e-11}]},
          "mark": {"type": "text", "font": "Liberation Sans", "fontSize": 27, "align": "left", "baseline": "alphabetic", "color": "black"},
          "encoding": {
            "x": {"field": "actual", "type": "quantitative", "scale": {"type": "log", "domain": [1e-12, 1e-8], "range": [365, 891], "nice": false}},
            "y": {"field": "predicted", "type": "quantitative", "scale": {"type": "log", "domain": [1e-12, 1e-8], "range": [1716, 1365], "nice": false}},
            "text": {"field": "line", "type": "nominal"}
          }
        },
        {
          "data": {"values": [{"line": "0.906", "actual": 4.355e-8, "predicted": 6.97e-12}]},
          "mark": {"type": "text", "font": "Liberation Sans", "fontWeight": "bold", "fontSize": 27, "align": "left", "baseline": "alphabetic", "color": "black"},
          "encoding": {
            "x": {"field": "actual", "type": "quantitative", "scale": {"type": "log", "domain": [1e-12, 1e-8], "range": [365, 891], "nice": false}},
            "y": {"field": "predicted", "type": "quantitative", "scale": {"type": "log", "domain": [1e-12, 1e-8], "range": [1716, 1365], "nice": false}},
            "text": {"field": "line", "type": "nominal"}
          }
        },
        {
          "data": {"values": [{"label": "C", "actual": 2.26e-15, "predicted": 2.38e-8}]},
          "mark": {"type": "text", "font": "Open Sans", "fontWeight": "bold", "fontSize": 44, "align": "center", "baseline": "middle", "color": "black"},
          "encoding": {
            "x": {"field": "actual", "type": "quantitative", "scale": {"type": "log", "domain": [1e-12, 1e-8], "range": [365, 891], "nice": false}},
            "y": {"field": "predicted", "type": "quantitative", "scale": {"type": "log", "domain": [1e-12, 1e-8], "range": [1716, 1365], "nice": false}},
            "text": {"field": "label", "type": "nominal"}
          }
        }
      ]
    }
  ],
  "resolve": {
    "scale": {"x": "independent", "y": "independent", "color": "independent", "shape": "independent", "strokeDash": "independent"},
    "axis": {"x": "independent", "y": "independent"},
    "legend": {"color": "independent", "shape": "independent", "strokeDash": "independent"}
  }
}
